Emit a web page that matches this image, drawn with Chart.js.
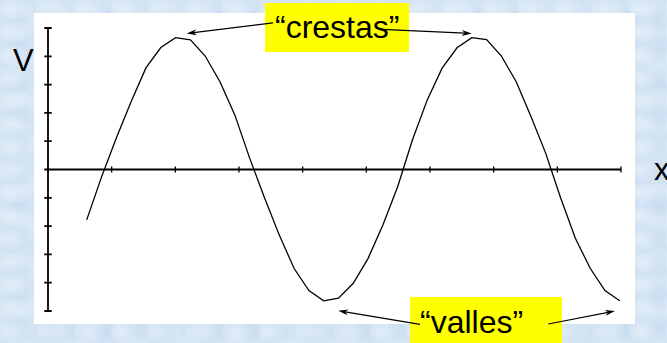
<!DOCTYPE html>
<html>
<head>
<meta charset="utf-8">
<script src="https://cdn.jsdelivr.net/npm/chart.js@4"></script>
<style>
  html, body { margin: 0; padding: 0; }
  body {
    width: 667px; height: 343px; overflow: hidden; position: relative;
    background-color: #d2e3f3;
    background-image:
      radial-gradient(ellipse at 30% 40%, rgba(238,245,252,0.55) 0, transparent 60%),
      radial-gradient(ellipse at 70% 65%, rgba(190,212,236,0.45) 0, transparent 55%),
      radial-gradient(ellipse at 50% 50%, rgba(230,240,250,0.4) 0, transparent 65%);
    background-size: 37px 23px, 29px 31px, 53px 41px;
    font-family: "Liberation Sans", Arial, sans-serif;
  }
  .panel { position: absolute; left: 34px; top: 13px; width: 601px; height: 311px; background: #fff; }
  .box { position: absolute; background: #ffff00; }
  .lbl { position: absolute; color: #000; line-height: 32px; white-space: nowrap; }
  canvas { position: absolute; left: 0; top: 0; }
</style>
</head>
<body>
<div class="panel"></div>
<div class="box" style="left:265px;top:3px;width:144px;height:49px;"></div>
<div class="box" style="left:410px;top:297px;width:152px;height:46px;"></div>
<div class="lbl" style="left:275px;top:11px;font-size:32px;">“crestas”</div>
<div class="lbl" style="left:420px;top:306px;font-size:32px;">“valles”</div>
<div class="lbl" style="left:13px;top:45px;font-size:31px;">V</div>
<div class="lbl" style="left:654px;top:154px;font-size:31px;">x</div>
<canvas id="wave" width="667" height="343"></canvas>
<script>
// wave samples (x in axis units, V in axis units)
const xValues = [0.608, 0.840, 1.073, 1.305, 1.538, 1.772, 2.004, 2.237, 2.469, 2.701,
  2.934, 3.166, 3.399, 3.631, 3.864, 4.098, 4.330, 4.563, 4.795, 5.028,
  5.260, 5.492, 5.725, 5.957, 6.190, 6.424, 6.656, 6.889, 7.121, 7.354,
  7.586, 7.818, 8.051, 8.283, 8.516, 8.748, 8.981];
const vValues = [-1.78, -0.27, 1.11, 2.39, 3.59, 4.31, 4.66, 4.58, 4.01, 3.10,
  1.93, 0.41, -0.99, -2.31, -3.49, -4.28, -4.64, -4.55, -4.02, -3.14,
  -1.96, -0.61, 1.05, 2.46, 3.58, 4.30, 4.66, 4.59, 4.01, 3.10,
  1.87, 0.57, -1.00, -2.43, -3.49, -4.28, -4.64];

// axis tick positions
const xTicks = [0, 1, 2, 3, 4, 5, 6, 7, 8, 9];
const yTicks = [-5, -4, -3, -2, -1, 0, 1, 2, 3, 4, 5];

// annotation arrows: [tailX, tailV, tipX, tipV]
const crestArrows = [[3.534, 5.18, 2.178, 4.81], [5.246, 4.95, 6.655, 4.81]];
const valleyArrows = [[5.843, -5.47, 4.559, -4.99], [7.858, -5.46, 8.906, -5.00]];

// thin line with a narrow filled head
function arrow(ctx, x1, y1, x2, y2) {
  const ang = Math.atan2(y2 - y1, x2 - x1);
  const len = 10, half = 3;
  const bx = x2 - len * Math.cos(ang), by = y2 - len * Math.sin(ang);
  ctx.beginPath();
  ctx.moveTo(x1, y1);
  ctx.lineTo(bx + 3 * Math.cos(ang), by + 3 * Math.sin(ang));
  ctx.stroke();
  ctx.beginPath();
  ctx.moveTo(x2, y2);
  ctx.lineTo(bx - half * Math.sin(ang), by + half * Math.cos(ang));
  ctx.lineTo(bx + 3 * Math.cos(ang), by + 3 * Math.sin(ang));
  ctx.lineTo(bx + half * Math.sin(ang), by - half * Math.cos(ang));
  ctx.closePath();
  ctx.fill();
}

const crossAxes = {
  id: 'crossAxes',
  beforeDatasetsDraw(chart) {
    const { ctx, scales: { x, y } } = chart;
    const x0 = x.getPixelForValue(0), y0 = y.getPixelForValue(0);
    ctx.save();
    ctx.strokeStyle = '#000';
    ctx.lineWidth = 1.8;
    ctx.beginPath();
    ctx.moveTo(x0, y.getPixelForValue(yTicks[0]));
    ctx.lineTo(x0, y.getPixelForValue(yTicks[yTicks.length - 1]));
    ctx.moveTo(x.getPixelForValue(xTicks[0]), y0);
    ctx.lineTo(x.getPixelForValue(xTicks[xTicks.length - 1]), y0);
    yTicks.forEach(t => {
      const py = y.getPixelForValue(t);
      ctx.moveTo(x0 - 3.7, py);
      ctx.lineTo(x0 + 3.7, py);
    });
    ctx.stroke();
    ctx.lineWidth = 1.3;
    ctx.beginPath();
    xTicks.forEach(t => {
      const px = x.getPixelForValue(t);
      ctx.moveTo(px, y0 - 3);
      ctx.lineTo(px, y0 + 3);
    });
    ctx.stroke();
    ctx.restore();
  },
  afterDraw(chart) {
    const { ctx, scales: { x, y } } = chart;
    ctx.save();
    ctx.strokeStyle = '#000';
    ctx.fillStyle = '#000';
    ctx.lineWidth = 1.2;
    crestArrows.concat(valleyArrows).forEach(a => {
      arrow(ctx, x.getPixelForValue(a[0]), y.getPixelForValue(a[1]),
        x.getPixelForValue(a[2]), y.getPixelForValue(a[3]));
    });
    ctx.restore();
  }
};

new Chart(document.getElementById('wave').getContext('2d'), {
  type: 'scatter',
  data: {
    datasets: [{
      data: xValues.map((v, i) => ({ x: v, y: vValues[i] })),
      showLine: true,
      borderColor: '#000',
      borderWidth: 1.3,
      pointRadius: 0,
      tension: 0,
      fill: false
    }]
  },
  options: {
    responsive: false,
    animation: false,
    devicePixelRatio: 1,
    layout: { padding: { left: 48, right: 46, top: 28, bottom: 32 } },
    plugins: { legend: { display: false }, tooltip: { enabled: false } },
    scales: {
      x: { type: 'linear', min: 0, max: 9, display: false },
      y: { type: 'linear', min: -5, max: 5, display: false }
    }
  },
  plugins: [crossAxes]
});
</script>
</body>
</html>
